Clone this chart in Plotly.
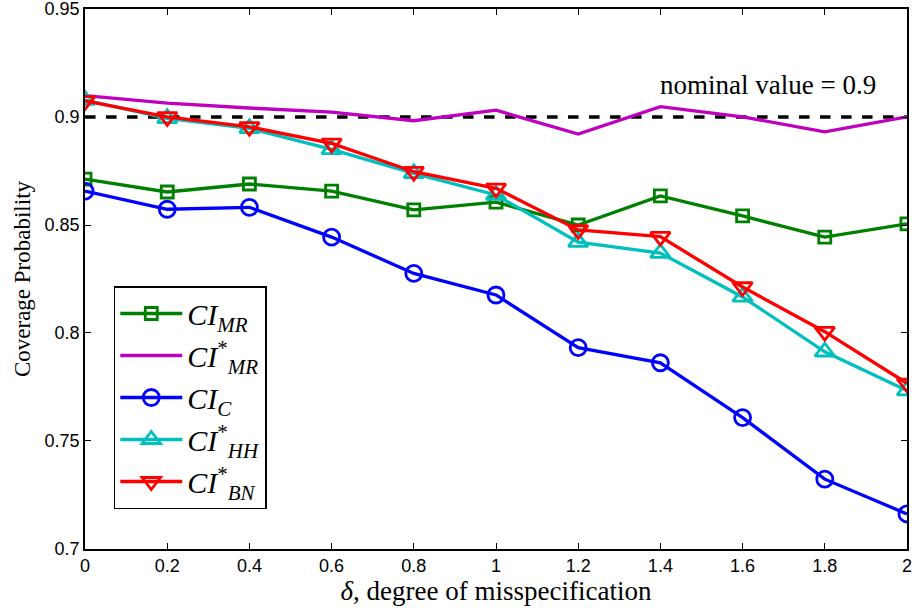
import plotly.graph_objects as go

delta = [0, 0.2, 0.4, 0.6, 0.8, 1.0, 1.2, 1.4, 1.6, 1.8, 2.0]
ci_mr = [0.8713, 0.8653, 0.8690, 0.8657, 0.8570, 0.8606, 0.8500, 0.8635, 0.8542, 0.8444, 0.8505]
ci_mr_star = [0.9099, 0.9065, 0.9042, 0.9023, 0.8983, 0.9032, 0.8921, 0.9048, 0.9001, 0.8932, 0.9001]
ci_c = [0.8657, 0.8573, 0.8582, 0.8444, 0.8276, 0.8176, 0.7932, 0.7862, 0.7608, 0.7323, 0.7162]
ci_hh = [0.9079, 0.8994, 0.8948, 0.8850, 0.8739, 0.8639, 0.8421, 0.8370, 0.8167, 0.7913, 0.7733]
ci_bn = [0.9075, 0.9001, 0.8955, 0.8878, 0.8747, 0.8670, 0.8477, 0.8446, 0.8213, 0.8006, 0.7767]
nominal = 0.9
xticks = [0, 0.2, 0.4, 0.6, 0.8, 1, 1.2, 1.4, 1.6, 1.8, 2]
xticklabels = ["0", "0.2", "0.4", "0.6", "0.8", "1", "1.2", "1.4", "1.6", "1.8", "2"]
yticks = [0.7, 0.75, 0.8, 0.85, 0.9, 0.95]
yticklabels = ["0.7", "0.75", "0.8", "0.85", "0.9", "0.95"]

serif = "Liberation Serif, DejaVu Serif, serif"
sans = "Liberation Sans, Arial, sans-serif"

fig = go.Figure()
fig.add_trace(go.Scatter(x=[delta[0], delta[-1]], y=[nominal, nominal], mode="lines",
                         line=dict(color="black", width=3.5, dash="dash"), showlegend=False,
                         hoverinfo="skip"))

series = [
    ("<i>CI</i><sub><i>MR</i></sub>", ci_mr, "#008000", "square-open", 12),
    ("<i>CI</i><sup>*</sup><sub><i>MR</i></sub>", ci_mr_star, "#BF00BF", None, 0),
    ("<i>CI</i><sub><i>C</i></sub>", ci_c, "#0000FF", "circle-open", 16),
    ("<i>CI</i><sup>*</sup><sub><i>HH</i></sub>", ci_hh, "#00BFBF", "triangle-up-open", 17),
    ("<i>CI</i><sup>*</sup><sub><i>BN</i></sub>", ci_bn, "#FF0000", "triangle-down-open", 17),
]
for name, ys, col, sym, size in series:
    if sym:
        fig.add_trace(go.Scatter(x=delta, y=ys, name=name, mode="lines+markers",
                                 line=dict(color=col, width=3.3),
                                 marker=dict(symbol=sym, size=size, color=col,
                                             line=dict(color=col, width=2.8))))
    else:
        fig.add_trace(go.Scatter(x=delta, y=ys, name=name, mode="lines",
                                 line=dict(color=col, width=3.3)))

fig.add_annotation(x=1.93, y=0.9070, xref="x", yref="y", text="nominal value = 0.9",
                   showarrow=False, xanchor="right", yanchor="bottom",
                   font=dict(family=serif, size=27, color="black"))

fig.update_layout(
    width=914, height=608,
    margin=dict(l=85, r=7, t=9, b=59, autoexpand=False),
    plot_bgcolor="white", paper_bgcolor="white",
    showlegend=True,
    legend=dict(x=0.035, y=0.487, xanchor="left", yanchor="top",
                bordercolor="black", borderwidth=1.5, bgcolor="white",
                font=dict(family=serif, size=30, color="black"),
                itemwidth=62),
)
fig.update_xaxes(range=[-0.0001, 2.0001], tickvals=xticks, ticktext=xticklabels,
                 ticks="inside", ticklen=6, tickcolor="black", tickwidth=1,
                 showline=True, linecolor="black", linewidth=1.5, mirror="ticks",
                 showgrid=False, zeroline=False, ticklabeloverflow="allow", automargin=False,
                 tickfont=dict(family=sans, size=18, color="black"),
                 title=dict(text="<i>δ</i>, degree of misspecification", standoff=4,
                            font=dict(family=serif, size=27, color="black")))
fig.update_yaxes(range=[0.69995, 0.95005], tickvals=yticks, ticktext=yticklabels,
                 ticks="inside", ticklen=6, tickcolor="black", tickwidth=1,
                 showline=True, linecolor="black", linewidth=1.5, mirror="ticks",
                 showgrid=False, zeroline=False, ticklabeloverflow="allow", automargin=False,
                 tickfont=dict(family=sans, size=18, color="black"),
                 title=dict(text="Coverage Probability", standoff=8,
                            font=dict(family=serif, size=23, color="black")))

fig.write_html("out.html")
